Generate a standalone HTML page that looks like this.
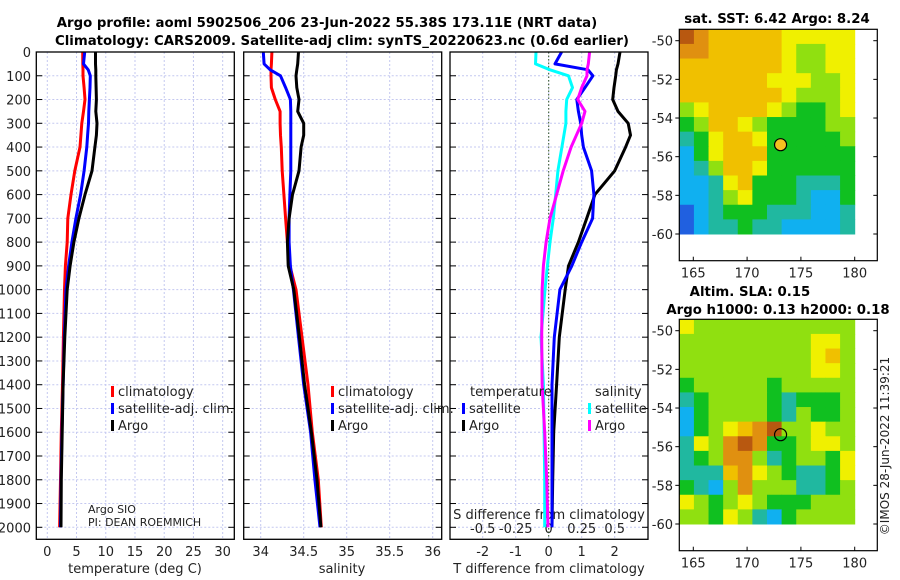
<!DOCTYPE html>
<html><head><meta charset="utf-8">
<style>
html,body{margin:0;padding:0;background:#fff;}
svg{display:block;font-family:"DejaVu Sans","Liberation Sans",sans-serif;}
.t{font-size:13px;fill:#222;}
.b{font-weight:bold;font-size:13.3px;fill:#000;}
</style></head>
<body>
<svg id="fig" width="900" height="580" viewBox="0 0 900 580" xmlns="http://www.w3.org/2000/svg">
<text class="b" x="327" y="27" text-anchor="middle">Argo profile: aoml 5902506_206 23-Jun-2022 55.38S 173.11E (NRT data)</text>
<text class="b" x="342" y="45" text-anchor="middle">Climatology: CARS2009. Satellite-adj clim: synTS_20220623.nc (0.6d earlier)</text>
<g id="layer"></g>
</svg>
<script>
// ---- data ----
const depths = [0,50,75,100,150,200,250,300,350,400,500,600,700,800,900,1000,1200,1400,1600,1800,2000];
const depthTicks = [0,100,200,300,400,500,600,700,800,900,1000,1100,1200,1300,1400,1500,1600,1700,1800,1900,2000];
const tempClim = [6.05,6.08,6.1,6.1,6.3,6.45,6.2,5.9,5.75,5.6,4.7,4.05,3.5,3.4,3.1,2.95,2.75,2.6,2.4,2.25,2.1];
const tempSat  = [6.4,6.2,7.0,7.35,7.3,7.2,7.1,7.05,6.9,6.75,6.3,5.7,4.9,4.2,3.65,3.2,2.9,2.7,2.5,2.35,2.25];
const tempArgo = [8.25,8.25,8.3,8.3,8.35,8.4,8.3,8.5,8.4,8.15,7.65,6.45,5.4,4.55,3.9,3.4,3.0,2.7,2.55,2.4,2.35];
const salClim = [34.13,34.125,34.12,34.12,34.125,34.17,34.225,34.225,34.23,34.24,34.25,34.27,34.29,34.31,34.34,34.41,34.48,34.55,34.6,34.67,34.705];
const salSat  = [34.03,34.04,34.11,34.23,34.29,34.345,34.35,34.35,34.35,34.35,34.35,34.34,34.33,34.33,34.345,34.38,34.44,34.5,34.58,34.63,34.69];
const salArgo = [34.44,34.43,34.42,34.41,34.42,34.445,34.43,34.5,34.5,34.47,34.445,34.37,34.33,34.31,34.32,34.385,34.45,34.51,34.59,34.655,34.7];
const tDiffSat  = [0.39,0.19,1.19,1.34,1.1,0.85,0.9,0.97,1.0,1.05,1.3,1.37,1.33,1.0,0.7,0.34,0.17,0.1,0.1,0.1,0.1];
const tDiffArgo = [2.16,2.1,2.05,2.03,1.98,1.94,2.1,2.41,2.48,2.33,2.0,1.4,1.15,0.9,0.6,0.5,0.32,0.24,0.15,0.12,0.1];
const sDiffSat  = [-0.096,-0.1,0.01,0.15,0.18,0.136,0.13,0.13,0.115,0.1,0.07,0.053,0.035,0.01,-0.01,-0.028,-0.058,-0.04,-0.035,-0.03,-0.03];
const sDiffArgo = [0.31,0.3,0.29,0.29,0.25,0.22,0.275,0.25,0.21,0.17,0.11,0.06,0.01,-0.02,-0.04,-0.05,-0.053,-0.05,-0.03,-0.015,-0.005];
const tempTicks = [0,5,10,15,20,25,30];
const salTicks = [34,34.5,35,35.5,36];
const salTickLabels = ["34","34.5","35","35.5","36"];
const tdTicks = [-2,-1,0,1,2];
const sdTicks = [-0.5,-0.25,0,0.25,0.5];
const sdTickLabels = ["-0.5","-0.25","0","0.25","0.5"];
const latTicks = [-50,-52,-54,-56,-58,-60];
const lonTicks = [165,170,175,180];
const floatLon = 173.11, floatLat = -55.38;
const sstGrid = [
[9,8,7,7,7,7,7,6,6,6,6,6],
[8,8,7,7,7,7,7,6,5,5,6,6],
[7,7,7,7,7,7,7,6,5,5,6,6],
[7,7,7,7,7,7,6,6,6,5,5,6],
[7,7,7,7,7,7,7,6,5,5,5,6],
[5,6,7,7,7,7,6,5,4,4,5,6],
[4,5,7,7,6,5,4,4,4,4,5,5],
[3,4,6,7,7,6,4,4,4,4,4,5],
[2,4,6,7,7,7,4,4,4,4,4,4],
[2,3,5,7,7,6,4,4,4,4,4,4],
[2,2,3,6,7,4,4,4,3,3,3,4],
[2,2,3,5,6,4,4,4,3,2,2,4],
[1,2,3,4,4,4,3,3,3,2,2,3],
[1,2,3,3,4,3,3,2,2,2,2,3]];
const slaGrid = [
[6,5,5,5,5,5,5,5,5,5,5,5],
[5,5,5,5,5,5,5,5,5,6,6,5],
[5,5,5,5,5,5,5,5,5,6,7,5],
[5,5,5,5,5,5,5,5,5,6,6,5],
[4,5,5,5,5,5,4,5,5,5,5,5],
[3,4,5,5,5,5,4,3,4,4,4,5],
[2,4,5,5,5,5,4,3,5,4,4,5],
[2,4,5,6,7,8,9,5,5,6,5,5],
[3,6,5,8,9,8,4,4,5,6,6,5],
[3,4,5,8,8,5,3,4,5,5,4,6],
[3,3,3,7,8,6,5,4,3,3,4,6],
[4,3,2,5,8,5,5,5,3,3,4,5],
[6,5,4,5,6,5,4,4,4,5,5,5],
[5,5,4,6,5,3,2,4,5,5,5,5]];
const cmap = ['#1020a0','#2060e0','#10b0f0','#20b8a0','#10c020','#90e010','#f0f000','#f0c000','#e09010','#b85810'];

// ---- helpers ----
const NS = "http://www.w3.org/2000/svg";
const L = document.getElementById('layer');
function el(tag, attrs, parent){ const e=document.createElementNS(NS,tag); for(const k in attrs) e.setAttribute(k,attrs[k]); (parent||L).appendChild(e); return e; }
function txt(x,y,s,anchor,size,parent){ const t=el('text',{x:x,y:y,'text-anchor':anchor||'start','font-size':size||13,fill:'#222'},parent); t.textContent=s; return t; }

const yTop=52, yBot=539.3, pxPerM=(527.3-52)/2000;
const yD = d => yTop + d*pxPerM;
const panels = [
 {name:'temperature', x0:36.3, x1:234.3, sx:v=>47.3+v*5.846},
 {name:'salinity', x0:243.7, x1:441.7, sx:v=>260.7+(v-34)*86},
 {name:'difference', x0:450, x1:648, sx:v=>548.7+v*33}
];
const sdx = v => 548.7 + v*132;

panels.forEach((p,pi)=>{
  const g = el('g',{});
  
  
  depthTicks.forEach(d=>{
    const ln=el('line',{x1:p.x0,x2:p.x1,y1:yD(d),y2:yD(d),stroke:'#c4c8f0','stroke-width':1,'stroke-dasharray':'2,2'},g);
     
    el('line',{x1:p.x0,x2:p.x0+6,y1:yD(d),y2:yD(d),stroke:'#000'},g);
    el('line',{x1:p.x1-6,x2:p.x1,y1:yD(d),y2:yD(d),stroke:'#000'},g);
  });
  const vt = pi===0?tempTicks:pi===1?salTicks:tdTicks;
  vt.forEach(v=>{
    const x=p.sx(v);
    const ln=el('line',{x1:x,x2:x,y1:yTop,y2:yBot,stroke:'#c4c8f0','stroke-width':1,'stroke-dasharray':'2,2'},g);
     
  });
});
depthTicks.forEach(d=>{
  const t=txt(31,yD(d)+5,String(d),'end',13);
   
});
tempTicks.forEach(v=>{ const t=txt(panels[0].sx(v),556,String(v),'middle',13);   });
salTicks.forEach((v,i)=>{ const t=txt(panels[1].sx(v),556,salTickLabels[i],'middle',13);   });
tdTicks.forEach(v=>{ const t=txt(panels[2].sx(v),556,String(v),'middle',13);   });
sdTicks.forEach((v,i)=>{ const t=txt(sdx(v),533,sdTickLabels[i],'middle',13);   });
let t;
t=txt(135,573,'temperature (deg C)','middle',13);  
t=txt(342,573,'salinity','middle',13);  
t=txt(549,573,'T difference from climatology','middle',13);  
t=txt(549,519,'S difference from climatology','middle',13);  
t=txt(88,513,'Argo SIO','start',11);  
t=txt(88,526,'PI: DEAN ROEMMICH','start',11);  

const z=el('line',{x1:panels[2].sx(0),x2:panels[2].sx(0),y1:yTop,y2:yBot,stroke:'#335522','stroke-width':1,'stroke-dasharray':'1.5,2'});
 

function series(vals, sx, color, name){
  const pts = vals.map((v,i)=>sx(v).toFixed(1)+','+yD(depths[i]).toFixed(1)).join(' ');
  const pl=el('polyline',{points:pts,fill:'none',stroke:color,'stroke-width':3,'stroke-linejoin':'round'});
   
}
series(tempClim,panels[0].sx,'#ff0000','temp-climatology-line');
series(tempSat,panels[0].sx,'#0000ff','temp-satellite-line');
series(tempArgo,panels[0].sx,'#000000','temp-argo-line');
series(salClim,panels[1].sx,'#ff0000','sal-climatology-line');
series(salSat,panels[1].sx,'#0000ff','sal-satellite-line');
series(salArgo,panels[1].sx,'#000000','sal-argo-line');
series(tDiffArgo,panels[2].sx,'#000000','tdiff-argo-line');
series(tDiffSat,panels[2].sx,'#0000ff','tdiff-satellite-line');
series(sDiffSat,sdx,'#00ffff','sdiff-satellite-line');
series(sDiffArgo,sdx,'#ff00ff','sdiff-argo-line');

panels.forEach(p=>{
  const r=el('rect',{x:p.x0,y:yTop,width:p.x1-p.x0,height:yBot-yTop,fill:'none',stroke:'#000','stroke-width':1.3});
   
});

function legItem(x,y,color,label,name){
  const g=el('g',{});
   
  el('rect',{x:x,y:y-10,width:3,height:11,fill:color},g);
  txt(x+7,y,label,'start',13,g);
}
legItem(111,396,'#ff0000','climatology','legend-temp-climatology');
legItem(111,413,'#0000ff','satellite-adj. clim.','legend-temp-satellite');
legItem(111,430,'#000000','Argo','legend-temp-argo');
legItem(331,396,'#ff0000','climatology','legend-sal-climatology');
legItem(331,413,'#0000ff','satellite-adj. clim.','legend-sal-satellite');
legItem(331,430,'#000000','Argo','legend-sal-argo');
t=txt(470,396,'temperature','start',13);  
t=txt(595,396,'salinity','start',13);  
legItem(462,413,'#0000ff','satellite','legend-tdiff-satellite');
legItem(462,430,'#000000','Argo','legend-tdiff-argo');
legItem(588,413,'#00ffff','satellite','legend-sdiff-satellite');
legItem(588,430,'#ff00ff','Argo','legend-sdiff-argo');

function drawMap(grid, boxTop, boxBot, lat50y, lat60y, name, fillFloat){
  const lx = lon => 693.3 + (lon-165)*(854.7-693.3)/15;
  const ly = lat => lat50y + (lat+50)*(lat50y-lat60y)/10;
  const boxL=679.3, boxR=877.3;
  const lonMin = 165 + (boxL-693.3)/((854.7-693.3)/15);
  const latMax = -50 + (lat50y-boxTop)/((lat60y-lat50y)/10);
  const g=el('g',{});
   
  const nr=grid.length, nc=grid[0].length;
  const dLon=(180-lonMin)/nc, dLat=(latMax+60)/nr;
  grid.forEach((row,r)=>row.forEach((v,c)=>{
    const x0=lx(lonMin+c*dLon), x1=lx(lonMin+(c+1)*dLon);
    const y0=ly(latMax-r*dLat), y1=ly(latMax-(r+1)*dLat);
    const cell=el('rect',{x:x0,y:y0,width:x1-x0+0.5,height:y1-y0+0.5,fill:cmap[v]},g);
     
  }));
  const c=el('circle',{cx:lx(floatLon),cy:ly(floatLat),r:6,fill:fillFloat,stroke:'#000','stroke-width':1.2},g);
   
  el('rect',{x:boxL,y:boxTop,width:boxR-boxL,height:boxBot-boxTop,fill:'none',stroke:'#000','stroke-width':1.2},g);
  latTicks.forEach(lat=>{
    const y=ly(lat);
    el('line',{x1:boxL,x2:boxL-4,y1:y,y2:y,stroke:'#000'},g);
    el('line',{x1:boxR,x2:boxR-4,y1:y,y2:y,stroke:'#000'},g);
    const tl=txt(673,y+5,String(lat),'end',13,g);
     
  });
  lonTicks.forEach(lon=>{
    const x=lx(lon);
    el('line',{x1:x,x2:x,y1:boxBot,y2:boxBot-4,stroke:'#000'},g);
    const tl=txt(x,boxBot+17,String(lon),'middle',13,g);
     
  });
}
drawMap(sstGrid,29.3,260.7,40.7,234,'sst-map','#f5c020');
drawMap(slaGrid,319.3,550.7,330.7,524,'sla-map','none');
t=el('text',{x:777,y:23,'text-anchor':'middle',class:'b'}); t.textContent='sat. SST: 6.42 Argo: 8.24';
 
t=el('text',{x:750,y:296,'text-anchor':'middle',class:'b'}); t.textContent='Altim. SLA: 0.15';
 
t=el('text',{x:778,y:314,'text-anchor':'middle',class:'b'}); t.textContent='Argo h1000: 0.13 h2000: 0.18';
 
t=el('text',{x:0,y:0,'text-anchor':'middle','font-size':12,fill:'#222',transform:'translate(889,446) rotate(-90)'}); t.textContent='©IMOS 28-Jun-2022 11:39:21';
 
</script>
</body></html>
